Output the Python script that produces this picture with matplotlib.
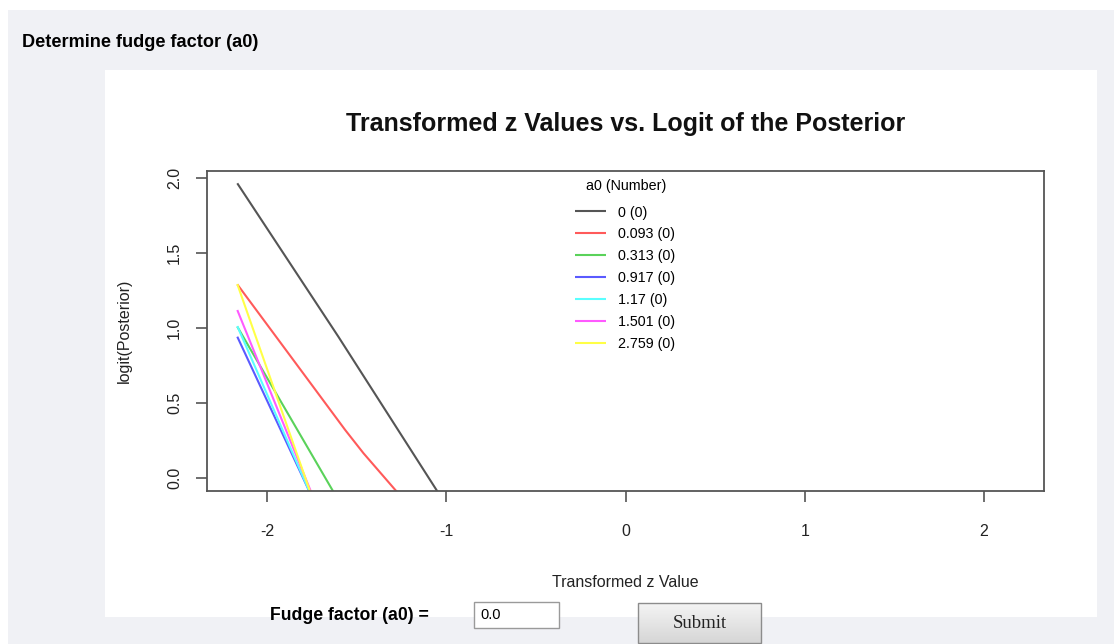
import matplotlib
matplotlib.use("Agg")
import matplotlib.pyplot as plt
from matplotlib.patches import Rectangle
import numpy as np

plt.rcParams['font.family'] = ['Liberation Sans', 'DejaVu Sans']

# ---- data: logit(posterior) against transformed z for each fudge factor a0 ----
a0_labels = ['0 (0)', '0.093 (0)', '0.313 (0)', '0.917 (0)', '1.17 (0)', '1.501 (0)', '2.759 (0)']
line_colors = ['#555555', '#ff5a5a', '#5ad25a', '#5a5aff', '#5affff', '#ff5aff', '#ffff46']

z_a0_0000 = [-2.166, -1.602, -1.044]
y_a0_0000 = [1.965, 0.942, -0.10]
z_a0_0093 = [-2.166, -1.564, -1.462, -1.270]
y_a0_0093 = [1.291, 0.320, 0.165, -0.10]
z_a0_0313 = [-2.166, -1.626]
y_a0_0313 = [1.009, -0.10]
z_a0_0917 = [-2.166, -1.760]
y_a0_0917 = [0.942, -0.10]
z_a0_1170 = [-2.166, -1.760]
y_a0_1170 = [1.013, -0.10]
z_a0_1501 = [-2.166, -1.752]
y_a0_1501 = [1.120, -0.10]
z_a0_2759 = [-2.166, -1.757]
y_a0_2759 = [1.293, -0.10]

z_series = [z_a0_0000, z_a0_0093, z_a0_0313, z_a0_0917, z_a0_1170, z_a0_1501, z_a0_2759]
y_series = [y_a0_0000, y_a0_0093, y_a0_0313, y_a0_0917, y_a0_1170, y_a0_1501, y_a0_2759]

x_ticks = [-2, -1, 0, 1, 2]
y_ticks = [0.0, 0.5, 1.0, 1.5, 2.0]

W, H = 1114, 644
fig = plt.figure(figsize=(W / 100, H / 100), dpi=100, facecolor='white')

# ---- page background drawn in pixel coordinates ----
bg = fig.add_axes([0, 0, 1, 1], zorder=0)
bg.axis('off')
bg.add_patch(Rectangle((8, 10), W - 8, H - 10, facecolor='#f0f1f5', edgecolor='none'))
bg.add_patch(Rectangle((105, 70), 992, 547, facecolor='white', edgecolor='none'))
bg.text(22, 42, 'Determine fudge factor (a0)', fontsize=13.1, fontweight='bold',
        ha='left', va='center', color='black')

# form row under the chart
bg.text(270, 615, 'Fudge factor (a0) =', fontsize=12.7, fontweight='bold',
        ha='left', va='center', color='black')
bg.add_patch(Rectangle((474, 602), 85, 26, facecolor='white', edgecolor='#9a9a9a', linewidth=1))
bg.text(480, 615, '0.0', fontsize=10.5, ha='left', va='center', color='black')
grad = np.linspace(0, 1, 50).reshape(-1, 1)
bg.imshow(grad, extent=(638, 761, 643, 603), cmap=matplotlib.colors.LinearSegmentedColormap.from_list(
    'btn', ['#f4f4f4', '#d6d6d6']), aspect='auto', zorder=2)
bg.add_patch(Rectangle((638, 603), 123, 40, facecolor='none', edgecolor='#8c8c8c', linewidth=1, zorder=3))
bg.text(699.5, 623, 'Submit', fontsize=13.5, ha='center', va='center', color='#222222',
        family=['Liberation Serif', 'DejaVu Serif'], zorder=4)
bg.set_xlim(0, W)
bg.set_ylim(H, 0)

# ---- chart ----
L, R, T, B = 207, 1044, 171, 491
ax = fig.add_axes([L / W, 1 - B / H, (R - L) / W, (B - T) / H], zorder=1)
ax.set_facecolor('none')

for zs, ys, col, lab in zip(z_series, y_series, line_colors, a0_labels):
    ax.plot(zs, ys, color=col, linewidth=1.5, label=lab, solid_capstyle='butt')

ax.set_xlim(-2.335, 2.335)
ax.set_ylim(-0.087, 2.047)
ax.set_xticks(x_ticks)
ax.set_xticklabels([str(t) for t in x_ticks])
ax.set_yticks(y_ticks)
ax.set_yticklabels([f'{t:.1f}' for t in y_ticks], rotation=90, va='center')

for s in ax.spines.values():
    s.set_color('#555555')
    s.set_linewidth(1.3)
ax.tick_params(axis='both', direction='out', length=8, width=1.2, color='#555555',
               labelsize=11.5, labelcolor='#222222')
ax.tick_params(axis='x', pad=16)
ax.tick_params(axis='y', pad=10)

ax.set_xlabel('Transformed z Value', fontsize=11.5, color='#222222', labelpad=25.5)
ax.set_ylabel('logit(Posterior)', fontsize=11.5, color='#222222', labelpad=25)
ax.set_title('Transformed z Values vs. Logit of the Posterior', fontsize=18,
             fontweight='bold', color='#111111', pad=29)

# legend entries, with its heading set as a separate centred line above them
ax.legend(loc='upper left', bbox_to_anchor=(0.43, 0.919),
          frameon=False, fontsize=10.3, handlelength=2.1,
          handletextpad=0.85, labelspacing=0.55, borderaxespad=0.2)
ax.text(0.5006, 0.953, 'a0 (Number)', transform=ax.transAxes, fontsize=10.3,
        ha='center', va='center', color='black')

fig.savefig('out.png', dpi=100, facecolor=fig.get_facecolor())
